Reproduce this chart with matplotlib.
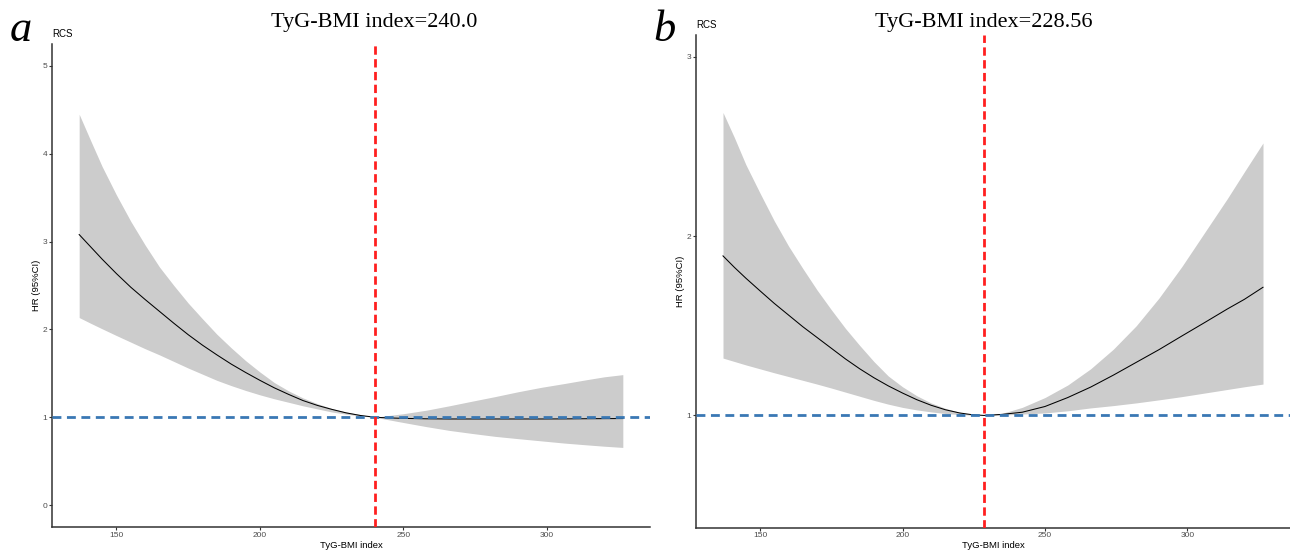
import matplotlib
import matplotlib.pyplot as plt
import matplotlib.transforms as mtransforms

matplotlib.use('Agg')
plt.rcParams['font.family'] = ['Liberation Sans', 'DejaVu Sans']

# Panel a: RCS curve, TyG-BMI index vs HR
x_a = [137, 141, 145, 150, 155, 160, 165, 170, 175, 180, 185, 190, 195, 200,
       205, 210, 215, 220, 225, 230, 235, 240,
       245, 250, 258, 266, 274, 282, 290, 298, 306, 314, 320, 326.5]
hr_a = [3.08, 2.94, 2.80, 2.635, 2.48, 2.34, 2.205, 2.07, 1.94, 1.82, 1.71, 1.605,
        1.51, 1.42, 1.335, 1.26, 1.19, 1.135, 1.09, 1.05, 1.02, 1.0,
        0.992, 0.987, 0.982, 0.98, 0.98, 0.98, 0.98, 0.98, 0.981, 0.983, 0.984, 0.985]
lo_a = [2.135, 2.07, 2.007, 1.93, 1.855, 1.78, 1.71, 1.635, 1.56, 1.49, 1.42, 1.36,
        1.305, 1.255, 1.21, 1.17, 1.13, 1.095, 1.06, 1.035, 1.015, 1.0,
        0.97, 0.94, 0.893, 0.85, 0.815, 0.782, 0.756, 0.731, 0.706, 0.685, 0.67, 0.656]
hi_a = [4.45, 4.15, 3.855, 3.53, 3.23, 2.96, 2.71, 2.50, 2.30, 2.12, 1.945, 1.79,
        1.645, 1.515, 1.395, 1.30, 1.22, 1.155, 1.10, 1.06, 1.03, 1.0,
        1.02, 1.04, 1.08, 1.13, 1.183, 1.235, 1.29, 1.34, 1.383, 1.428, 1.46, 1.485]
cut_a = 240.0
cut_label_a = '240.0'
yticks_a = [0, 1, 2, 3, 4, 5]

# Panel b
x_b = [137, 141, 145, 150, 155, 160, 165, 170, 175, 180, 185, 190, 195, 200,
       205, 210, 215, 220, 224, 228.56,
       235, 242, 250, 258, 266, 274, 282, 290, 298, 306, 314, 320, 326.5]
hr_b = [1.89, 1.826, 1.766, 1.695, 1.625, 1.56, 1.495, 1.435, 1.375, 1.315, 1.26,
        1.21, 1.165, 1.125, 1.088, 1.057, 1.032, 1.014, 1.005, 1.0,
        1.006, 1.018, 1.05, 1.10, 1.158, 1.225, 1.296, 1.367, 1.443, 1.518, 1.594,
        1.648, 1.715]
lo_b = [1.32, 1.301, 1.282, 1.26, 1.238, 1.217, 1.196, 1.175, 1.153, 1.13, 1.107,
        1.084, 1.063, 1.045, 1.031, 1.02, 1.011, 1.005, 1.002, 1.0,
        1.002, 1.008, 1.014, 1.026, 1.042, 1.055, 1.07, 1.087, 1.105, 1.125, 1.145,
        1.16, 1.175]
hi_b = [2.69, 2.55, 2.40, 2.24, 2.085, 1.945, 1.82, 1.70, 1.59, 1.485, 1.39, 1.30,
        1.22, 1.16, 1.11, 1.07, 1.04, 1.018, 1.006, 1.0,
        1.012, 1.045, 1.10, 1.17, 1.26, 1.37, 1.50, 1.655, 1.83, 2.02, 2.21, 2.36, 2.52]
cut_b = 228.56
cut_label_b = '228.56'
yticks_b = [1, 2, 3]

xticks = [150, 200, 250, 300]

W, H = 1290, 550
fig = plt.figure(figsize=(W / 100, H / 100), dpi=100)
ax_a = fig.add_axes([52 / W, 23 / H, 598 / W, 483 / H])
ax_b = fig.add_axes([696 / W, 22.5 / H, 594 / W, 493 / H])

panels = [
    (ax_a, 'a', x_a, hr_a, lo_a, hi_a, cut_a, cut_label_a, yticks_a, (-0.25, 5.25), 10),
    (ax_b, 'b', x_b, hr_b, lo_b, hi_b, cut_b, cut_label_b, yticks_b, (0.375, 3.125), 653),
]

for ax, letter, x, hr, lo, hi, cut, cut_label, yticks, ylim, letter_px in panels:
    ax.fill_between(x, lo, hi, color='#cccccc', lw=0, zorder=1)
    ax.plot(x, hr, color='black', lw=0.75, zorder=2)
    ax.axhline(1, color='#3a78b4', lw=2, ls=(0, (3.2, 2.0)), zorder=3)
    ax.axvline(cut, color='#ff1f1f', lw=2, ls=(0, (3.0, 1.6)), zorder=4)

    span = max(x) - min(x)
    ax.set_xlim(min(x) - 0.05 * span, max(x) + 0.05 * span)
    ax.set_ylim(*ylim)
    ax.set_xticks(xticks)
    ax.set_yticks(yticks)

    for side in ('top', 'right'):
        ax.spines[side].set_visible(False)
    for side in ('left', 'bottom'):
        ax.spines[side].set_linewidth(1.1)
        ax.spines[side].set_color('#333333')
    ax.tick_params(length=2, width=0.8, colors='#333333', labelsize=6,
                   labelcolor='#4d4d4d', pad=1.5)

    ax.set_xlabel('TyG-BMI index', fontsize=6.8, labelpad=1.2)
    ax.set_ylabel('HR (95%CI)', fontsize=6.8, labelpad=0.8)
    ax.set_title('RCS', loc='left', fontsize=7, pad=4.7)

    trans = mtransforms.blended_transform_factory(ax.transData, fig.transFigure)
    ax.text(cut, 1 - 27 / H, f'TyG-BMI index={cut_label}', transform=trans,
            ha='center', va='baseline', fontsize=16, family='Liberation Serif')
    fig.text(letter_px / W, 1 - 41 / H, letter, fontsize=32, style='italic',
             family='Liberation Serif', va='baseline', ha='left')

fig.savefig('out.png', dpi=100)
